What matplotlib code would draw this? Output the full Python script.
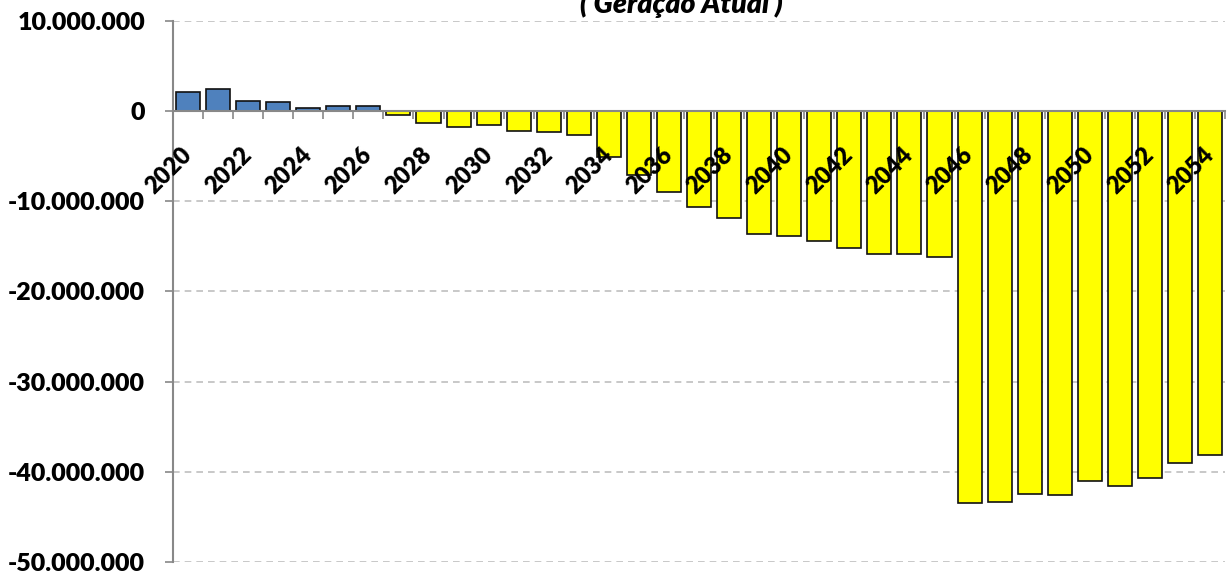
import matplotlib
matplotlib.use("Agg")
import matplotlib.pyplot as plt
from matplotlib.ticker import FixedLocator, FuncFormatter

# Annual result, current generation
years = list(range(2020, 2055))
values = [
    2_080_000, 2_410_000, 1_080_000, 970_000, 370_000, 560_000, 600_000,
    -370_000, -1_330_000, -1_700_000, -1_520_000, -2_220_000, -2_260_000,
    -2_590_000, -5_100_000, -7_100_000, -8_940_000, -10_600_000,
    -11_900_000, -13_600_000, -13_900_000, -14_400_000, -15_200_000,
    -15_800_000, -15_800_000, -16_200_000, -43_500_000, -43_300_000,
    -42_500_000, -42_600_000, -41_000_000, -41_600_000, -40_700_000,
    -39_000_000, -38_100_000,
]
y_ticks = [10_000_000, 0, -10_000_000, -20_000_000, -30_000_000,
           -40_000_000, -50_000_000]
title = "( Geração Atual )"

plt.rcParams['font.family'] = ['Lato', 'DejaVu Sans']

fig = plt.figure(figsize=(12.27, 5.71), dpi=100)
ax = fig.add_axes([0.141, 0.0158, 0.8574, 0.9474])

pos = list(range(len(years)))
colors = ['#4F81BD' if v >= 0 else '#FFFF00' for v in values]
ax.bar(pos, values, width=0.8, color=colors, edgecolor='#111111',
       linewidth=1.2, zorder=3)

ax.set_xlim(-0.5, len(years) - 0.5)
ax.set_ylim(-50_000_000, 10_000_000)

# y axis
ax.set_yticks(y_ticks)
ax.yaxis.set_major_formatter(
    FuncFormatter(lambda v, _: f"{v:,.0f}".replace(',', '.')))
ax.tick_params(axis='y', direction='out', length=6, color='#888888',
               width=1.2, labelsize=18, pad=14)
for lbl in ax.get_yticklabels():
    lbl.set_fontweight('heavy')
ax.grid(axis='y', color='#BFBFBF', linestyle=(0, (4, 3)), linewidth=1.2,
        zorder=0)

# x axis drawn at zero, on top of the bars
for s in ('top', 'right'):
    ax.spines[s].set_visible(False)
ax.spines['bottom'].set_position(('data', 0))
ax.spines['bottom'].set_color('#888888')
ax.spines['bottom'].set_linewidth(1.5)
ax.spines['bottom'].set_zorder(4)
ax.spines['left'].set_color('#888888')
ax.spines['left'].set_linewidth(1.5)
ax.xaxis.set_zorder(6)

ax.xaxis.set_major_locator(FixedLocator([p - 0.5 for p in pos] + [len(pos) - 0.5]))
ax.xaxis.set_major_formatter(FuncFormatter(lambda v, _: ''))
ax.tick_params(axis='x', which='major', direction='out', length=6,
               color='#888888', width=1.2)

label_pos = pos[::2]
ax.xaxis.set_minor_locator(FixedLocator(label_pos))
ax.set_xticklabels([str(years[p]) for p in label_pos], minor=True)
ax.tick_params(axis='x', which='minor', length=0, pad=29, labelsize=17)
for lbl in ax.get_xticklabels(minor=True):
    lbl.set_fontweight('heavy')
    lbl.set_rotation(45)
    lbl.set_rotation_mode('anchor')
    lbl.set_ha('right')
    lbl.set_va('center')

fig.text(0.555, 1 - 13 / 571, title, ha='center', va='baseline',
         fontsize=20.5, fontweight='heavy', fontstyle='italic')

fig.savefig('out.png', dpi=100)
